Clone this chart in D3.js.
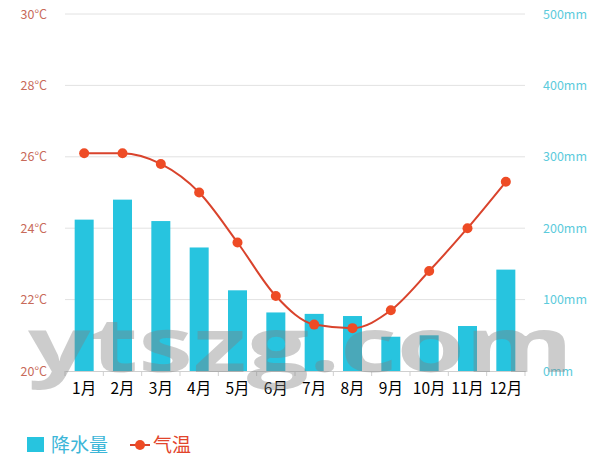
<!DOCTYPE html>
<html><head><meta charset="utf-8">
<script src="https://cdn.jsdelivr.net/npm/d3@7"></script>
<style>body{margin:0;background:#fff}svg{display:block}</style>
</head><body>
<svg id="c" width="605" height="458"></svg>
<script>
const months = ["1月","2月","3月","4月","5月","6月","7月","8月","9月","10月","11月","12月"];
const rainfall = [212, 240, 210, 173, 113, 82, 80, 77, 48, 50, 63, 142];
const temperature = [26.1, 26.1, 25.8, 25.0, 23.6, 22.1, 21.3, 21.2, 21.7, 22.8, 24.0, 25.3];
const tempTicks = [20, 22, 24, 26, 28, 30];
const rainTicks = [0, 100, 200, 300, 400, 500];
const legendLabels = ["降水量", "气温"];

(function () {
const svg = d3.select("#c");
const pLeft = 65, pRight = 525, pTop = 14, pBottom = 371;
const font = "'Noto Sans CJK SC', 'Open Sans', sans-serif";

const x = d3.scaleBand().domain(months).range([pLeft, pRight]);
const yT = d3.scaleLinear().domain([20, 30]).range([pBottom, pTop]);
const yR = d3.scaleLinear().domain([0, 500]).range([pBottom, pTop]);

// grid
svg.append("g").selectAll("line").data(tempTicks.slice(1)).join("line")
  .attr("x1", pLeft).attr("x2", pRight)
  .attr("y1", d => yT(d)).attr("y2", d => yT(d))
  .attr("stroke", "#e2e2e2").attr("stroke-width", 1);

// left axis labels
const gl = svg.append("g").attr("transform", `translate(${pLeft},0)`)
  .call(d3.axisLeft(yT).tickValues(tempTicks).tickSize(0).tickPadding(18).tickFormat(d => d + "°C"));
gl.select(".domain").remove();
gl.selectAll("text").attr("fill", "#c86a5a").attr("font-size", 12.5).attr("font-family", font);

// right axis labels
const gr = svg.append("g").attr("transform", `translate(${pRight},0)`)
  .call(d3.axisRight(yR).tickValues(rainTicks).tickSize(0).tickPadding(18).tickFormat(d => d + "mm"));
gr.select(".domain").remove();
gr.selectAll("text").attr("fill", "#5ccbdc").attr("font-size", 12.5).attr("font-family", font);

// bars
const bw = 19;
svg.append("g").selectAll("rect").data(months).join("rect")
  .attr("x", d => x(d) + x.bandwidth() / 2 - bw / 2)
  .attr("width", bw)
  .attr("y", (d, i) => yR(rainfall[i]))
  .attr("height", (d, i) => pBottom - yR(rainfall[i]))
  .attr("fill", "#27c4df");

// x axis
const gx = svg.append("g").attr("transform", `translate(0,${pBottom})`)
  .call(d3.axisBottom(x).tickSize(0).tickPadding(12));
gx.select(".domain").attr("stroke", "#cfcfcf");
gx.selectAll("text").attr("fill", "#000").attr("font-size", 15.5).attr("font-family", font);
svg.append("g").selectAll("line").data(d3.range(13)).join("line")
  .attr("x1", i => pLeft + i * x.step()).attr("x2", i => pLeft + i * x.step())
  .attr("y1", pBottom).attr("y2", pBottom + 5)
  .attr("stroke", "#cfcfcf");

// line
const line = d3.line()
  .x((d, i) => x(months[i]) + x.bandwidth() / 2)
  .y(d => yT(d))
  .curve(d3.curveMonotoneX);
svg.append("path").datum(temperature).attr("d", line)
  .attr("fill", "none").attr("stroke", "#d9432c").attr("stroke-width", 2);
svg.append("g").selectAll("circle").data(temperature).join("circle")
  .attr("cx", (d, i) => x(months[i]) + x.bandwidth() / 2)
  .attr("cy", d => yT(d)).attr("r", 5)
  .attr("fill", "#ee4b25");

// watermark
svg.append("text").text("ytszg.com")
  .attr("x", 28).attr("y", 372)
  .attr("textLength", 545).attr("lengthAdjust", "spacingAndGlyphs")
  .attr("font-size", 76).attr("font-weight", "bold").attr("font-family", "'Open Sans', sans-serif")
  .attr("fill", "#808080").attr("fill-opacity", 0.4);

// legend
const lg = svg.append("g");
lg.append("rect").attr("x", 27).attr("y", 437).attr("width", 17).attr("height", 15).attr("fill", "#27c4df");
lg.append("text").text(legendLabels[0]).attr("x", 51).attr("y", 452)
  .attr("font-size", 19).attr("font-family", font).attr("fill", "#3cb6d8");
lg.append("line").attr("x1", 130).attr("x2", 150).attr("y1", 445).attr("y2", 445)
  .attr("stroke", "#d9432c").attr("stroke-width", 2);
lg.append("circle").attr("cx", 140).attr("cy", 445).attr("r", 5).attr("fill", "#ee4b25");
lg.append("text").text(legendLabels[1]).attr("x", 153).attr("y", 452)
  .attr("font-size", 19).attr("font-family", font).attr("fill", "#e2452c");
})();
</script>
</body></html>
